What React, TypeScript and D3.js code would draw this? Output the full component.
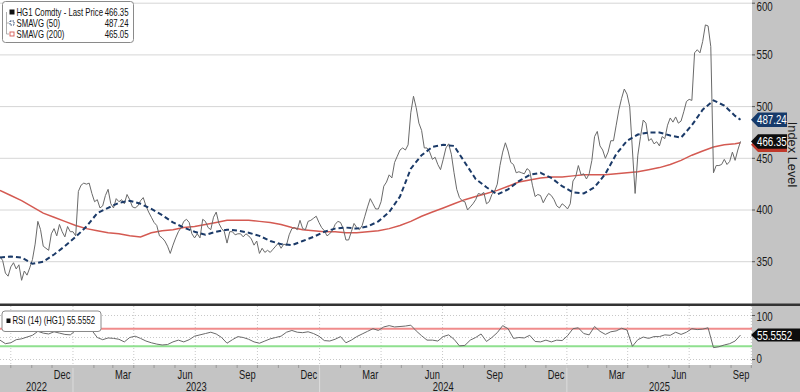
import React from 'react';
import * as d3 from 'd3';

// ---------- DATA ----------
const START = '2022-09-15';
const END_DOMAIN = '2025-10-02';
const LAST_DATE = '2025-09-15';
const PRICE_STEP_DAYS = 4;
const SMA_STEP_DAYS = 16;
const RSI_STEP_DAYS = 8;

const price = [
  355, 351, 339, 336, 345, 349, 343, 347, 332, 341, 337, 344, 352, 367, 389, 381, 365, 363, 361, 377,
  382, 375, 386, 379, 374, 384, 379, 379, 375, 418, 424, 426, 425, 426, 416, 408, 410, 402, 404, 414,
  420, 406, 402, 411, 408, 410, 406, 415, 410, 403, 402, 404, 409, 412, 404, 398, 393, 388, 385, 375,
  373, 370, 365, 358, 366, 373, 379, 383, 389, 391, 388, 377, 373, 377, 373, 391, 389, 383, 381, 393,
  398, 387, 382, 379, 368, 379, 379, 376, 377, 377, 374, 377, 375, 372, 366, 370, 358, 363, 359, 361,
  359, 362, 365, 368, 363, 367, 366, 376, 382, 383, 381, 390, 382, 381, 389, 390, 392, 394, 388, 383,
  380, 375, 377, 380, 386, 389, 388, 382, 371, 371, 379, 387, 383, 381, 385, 394, 403, 411, 406, 401,
  401, 408, 423, 427, 434, 431, 446, 452, 458, 460, 458, 463, 494, 510, 499, 484, 477, 460, 460, 456,
  449, 451, 444, 439, 449, 460, 464, 454, 436, 420, 412, 409, 408, 400, 403, 406, 410, 416, 415, 417,
  406, 408, 415, 418, 425, 443, 456, 465, 457, 446, 444, 436, 437, 436, 435, 440, 438, 424, 413, 415,
  414, 407, 412, 416, 414, 410, 404, 402, 406, 404, 401, 406, 428, 432, 443, 434, 435, 430, 435, 448,
  471, 476, 462, 458, 450, 456, 467, 467, 482, 497, 508, 517, 512, 500, 458, 416, 453, 471, 487, 484,
  467, 469, 464, 466, 462, 471, 469, 482, 489, 485, 490, 484, 486, 495, 505, 507, 506, 552, 555, 552,
  563, 579, 578, 558, 436, 443, 443, 444, 449, 444, 447, 456, 448, 458, 466.35,
];

const sma50 = [
  354, 355, 354, 348, 350, 357, 365, 374, 384, 397, 402, 407, 409, 406, 401, 395, 388, 383, 379, 376,
  379, 381, 380, 378, 375, 370, 367, 366, 370, 374, 379, 382, 383, 382, 384, 389, 398, 413, 440, 453,
  461, 463, 462, 446, 430, 422, 415, 420, 428, 434, 436, 431, 423, 417, 416, 422, 435, 454, 467, 473,
  475, 475, 472, 470, 482, 497, 506, 501, 491,
];
const lastSma50 = 487.24;

const sma200 = [
  419, 414, 409, 403, 397, 393, 389, 385, 382, 380, 378, 377, 375, 374, 378, 380, 381, 383, 384, 386,
  388, 390, 390, 390, 389, 388, 386, 383, 381, 380, 379, 379, 378, 378, 379, 380, 382, 385, 389, 394,
  398, 402, 406, 410, 413, 416, 419, 423, 427, 429, 431, 432, 432, 433, 434, 434, 434, 435, 436, 437,
  439, 441, 444, 448, 453, 457, 461, 463, 464,
];
const lastSma200 = 465.05;
const lastPrice = 466.35;

const rsi = [
  44, 36, 38, 45, 47, 51, 55, 64, 60, 58, 63, 60, 57, 56, 66, 76, 74, 66, 50, 45,
  49, 48, 46, 40, 50, 53, 48, 42, 38, 35, 33, 34, 40, 44, 40, 45, 53, 56, 59, 62,
  58, 50, 37, 45, 52, 50, 46, 40, 37, 42, 47, 50, 53, 62, 66, 62, 61, 63, 59, 53,
  43, 42, 46, 52, 38, 44, 52, 58, 64, 70, 66, 74, 77, 74, 75, 76, 78, 65, 54, 44,
  44, 42, 52, 56, 46, 31, 32, 44, 50, 58, 41, 50, 61, 77, 70, 48, 50, 49, 55, 41,
  40, 44, 40, 44, 43, 54, 70, 72, 59, 56, 75, 64, 57, 63, 65, 71, 67, 30, 45, 51,
  48, 52, 52, 56, 55, 62, 57, 62, 70, 68, 69, 72, 27, 29, 33, 36, 42,
];
const lastRsi = 55.5552;

const priceTicks = [350, 400, 450, 500, 550, 600];
const rsiTicks = [0, 100];
const rsiGrid = [0, 50, 100];
const rsiOverbought = 70;
const rsiOversold = 30;
const labelMonths = [2, 5, 8, 11]; // Mar, Jun, Sep, Dec
const legendItems = [
  { name: 'HG1 Comdty - Last Price', value: '466.35' },
  { name: 'SMAVG (50)', value: '487.24' },
  { name: 'SMAVG (200)', value: '465.05' },
];
const rsiLegend = 'RSI (14) (HG1) 55.5552';

// ---------- STYLE ----------
const FONT = "'Liberation Sans', Arial, sans-serif";
const C_PRICE = '#6a6a6a';
const C_SMA50 = '#1b3a68';
const C_SMA200 = '#d45a52';
const C_BAND = '#c4c4c4';
const SX = 0.78;

type Pt = { d: Date; v: number };

function NText(props: {
  x: number;
  y: number;
  size: number;
  fill?: string;
  anchor?: 'start' | 'middle' | 'end';
  sx?: number;
  children: React.ReactNode;
}) {
  const { x, y, size, fill = '#1a1a1a', anchor = 'start', sx = SX, children } = props;
  return (
    <text
      transform={`translate(${x},${y}) scale(${sx},1)`}
      textAnchor={anchor}
      dominantBaseline="central"
      fontSize={size}
      fill={fill}
    >
      {children}
    </text>
  );
}

export default function App() {
  const W = 800;
  const H = 392;
  const plotR = 752;
  const mainBottom = 303.5;
  const rsiTop = 306;
  const bandTop = 365;

  const parse = d3.timeParse('%Y-%m-%d');
  const t0 = parse(START) as Date;
  const tEnd = parse(END_DOMAIN) as Date;
  const tLast = parse(LAST_DATE) as Date;

  const x = d3.scaleTime().domain([t0, tEnd]).range([0, plotR]);
  const y = d3.scaleLinear().domain([350, 600]).range([261.7, 3.2]);
  const yr = d3.scaleLinear().domain([0, 100]).range([359.5, 315.5]);

  const seq = (arr: number[], step: number): Pt[] =>
    arr.map((v, i) => ({ d: d3.timeDay.offset(t0, i * step), v }));

  const pData = seq(price, PRICE_STEP_DAYS);
  const s50: Pt[] = [...seq(sma50, SMA_STEP_DAYS), { d: tLast, v: lastSma50 }];
  const s200: Pt[] = [...seq(sma200, SMA_STEP_DAYS), { d: tLast, v: lastSma200 }];
  const rData: Pt[] = [...seq(rsi, RSI_STEP_DAYS), { d: tLast, v: lastRsi }];

  const lineMain = d3.line<Pt>().x((p) => x(p.d)).y((p) => y(p.v));
  const lineRsi = d3.line<Pt>().x((p) => x(p.d)).y((p) => yr(p.v));

  const months = d3.timeMonth.range(d3.timeMonth.ceil(t0), tEnd);
  const quarterStarts = months.filter((m) => m.getMonth() % 3 === 0);
  const labeled = months
    .concat([d3.timeMonth.floor(t0)])
    .filter((m) => labelMonths.includes(m.getMonth()));
  const fmtMonth = d3.timeFormat('%b');

  const yearStarts = d3.timeYear.range(d3.timeYear.ceil(t0), tEnd);
  const years = [d3.timeYear.floor(t0), ...yearStarts].map((ys) => {
    const a = ys < t0 ? t0 : ys;
    const nx = d3.timeYear.offset(ys, 1);
    const b = nx > tEnd ? tEnd : nx;
    return { label: ys.getFullYear(), cx: (x(a) + x(b)) / 2 };
  });

  const tagPath = (cy: number, h: number, right: number) => {
    const x0 = plotR - 1;
    const xs = plotR + 6;
    return `M${x0},${cy} L${xs},${cy - h / 2} L${right},${cy - h / 2} L${right},${cy + h / 2} L${xs},${cy + h / 2} Z`;
  };

  return (
    <svg
      width={W}
      height={H}
      viewBox={`0 0 ${W} ${H}`}
      style={{ position: 'absolute', left: 0, top: 0, background: '#fff' }}
      fontFamily={FONT}
    >
      <defs>
        <clipPath id="clipMain">
          <rect x={0} y={0} width={plotR} height={mainBottom} />
        </clipPath>
        <clipPath id="clipRsi">
          <rect x={0} y={rsiTop} width={plotR} height={bandTop - rsiTop} />
        </clipPath>
      </defs>

      <rect x={0} y={0} width={W} height={H} fill="#fff" />

      {/* main gridlines */}
      {priceTicks.map((t) => (
        <line key={t} x1={0} x2={plotR} y1={y(t)} y2={y(t)} stroke="#d6d6d6" strokeWidth={1} />
      ))}

      {/* rsi gridlines */}
      {rsiGrid.map((t) => (
        <line key={t} x1={0} x2={plotR} y1={yr(t)} y2={yr(t)} stroke="#c8c8c8" strokeWidth={1} strokeDasharray="1,2" />
      ))}
      {quarterStarts.map((q) => (
        <line key={+q} x1={x(q)} x2={x(q)} y1={rsiTop} y2={bandTop} stroke="#c8c8c8" strokeWidth={1} strokeDasharray="1,2" />
      ))}

      {/* main series */}
      <g clipPath="url(#clipMain)">
        <path d={lineMain(s200) || ''} fill="none" stroke={C_SMA200} strokeWidth={1.5} />
        <path d={lineMain(pData) || ''} fill="none" stroke={C_PRICE} strokeWidth={1} strokeLinejoin="round" />
        <path d={lineMain(s50) || ''} fill="none" stroke={C_SMA50} strokeWidth={2} strokeDasharray="5,3" />
      </g>

      {/* rsi */}
      <line x1={0} x2={plotR} y1={yr(rsiOverbought)} y2={yr(rsiOverbought)} stroke="#f08c8c" strokeWidth={2} />
      <line x1={0} x2={plotR} y1={yr(rsiOversold)} y2={yr(rsiOversold)} stroke="#8fe08f" strokeWidth={2} />
      <g clipPath="url(#clipRsi)">
        <path d={lineRsi(rData) || ''} fill="none" stroke={C_PRICE} strokeWidth={1} strokeLinejoin="round" />
      </g>

      {/* panel separator */}
      <rect x={0} y={mainBottom} width={W} height={2.5} fill="#333" />

      {/* x band */}
      <rect x={0} y={bandTop} width={W} height={H - bandTop} fill={C_BAND} />
      {months.map((m) => (
        <line key={+m} x1={x(m)} x2={x(m)} y1={bandTop} y2={bandTop + 3} stroke="#999" strokeWidth={1} />
      ))}
      {yearStarts.map((ys) => (
        <line key={+ys} x1={x(ys)} x2={x(ys)} y1={bandTop} y2={H} stroke="#dcdcdc" strokeWidth={1} />
      ))}
      {labeled.map((m) => {
        const mid = x(d3.timeDay.offset(m, 15));
        if (mid < 5 || mid > plotR) return null;
        return (
          <NText key={+m} x={mid} y={374.5} size={12} anchor="middle">
            {fmtMonth(m)}
          </NText>
        );
      })}
      {years.map((yy) => (
        <NText key={yy.label} x={yy.cx} y={386.5} size={12} anchor="middle">
          {yy.label}
        </NText>
      ))}

      {/* right band */}
      <rect x={plotR} y={0} width={W - plotR} height={bandTop} fill={C_BAND} />
      <rect x={plotR} y={mainBottom} width={W - plotR} height={2.5} fill="#333" />
      {priceTicks.map((t) => (
        <g key={t}>
          <line x1={plotR} x2={plotR + 3} y1={y(t)} y2={y(t)} stroke="#555" />
          <NText x={plotR + 4.5} y={Math.max(y(t), 7)} size={12.5}>
            {t}
          </NText>
        </g>
      ))}
      {rsiTicks.map((t) => (
        <g key={t}>
          <line x1={plotR} x2={plotR + 3} y1={yr(t)} y2={yr(t)} stroke="#555" />
          <NText x={plotR + 4.5} y={yr(t) + (t === 0 ? -1 : 1)} size={12.5}>
            {t}
          </NText>
        </g>
      ))}
      <text
        transform={`translate(${792.5},${154.5}) rotate(90) scale(0.95,1)`}
        textAnchor="middle"
        dominantBaseline="central"
        fontSize={13.5}
        fill="#1a1a1a"
      >
        Index Level
      </text>

      {/* value tags */}
      <path d={tagPath(y(lastSma200) + 2, 14.5, 787)} fill="#c0392b" />
      <path d={tagPath(y(lastPrice), 14.5, 787)} fill="#0d0d0d" />
      <NText x={plotR + 5} y={y(lastPrice)} size={12.5} fill="#fff">
        {lastPrice.toFixed(2)}
      </NText>
      <path d={tagPath(y(lastSma50), 14.5, 787)} fill="#163a6a" />
      <NText x={plotR + 5} y={y(lastSma50)} size={12.5} fill="#fff">
        {lastSma50.toFixed(2)}
      </NText>
      <path d={tagPath(yr(lastRsi), 13, W)} fill="#0d0d0d" />
      <NText x={plotR + 5} y={yr(lastRsi)} size={12.5} fill="#fff">
        {lastRsi.toFixed(4)}
      </NText>

      {/* main legend */}
      <g>
        <rect x={2.5} y={1.5} width={131} height={41} rx={3} fill="#fff" stroke="#8a8a8a" strokeWidth={1} />
        <path d="M6.5,12 V34 M6.5,23 H9 M6.5,34 H9" stroke="#999" fill="none" strokeWidth={0.8} />
        <rect x={9.5} y={9.5} width={5} height={5} fill="#111" />
        <rect x={10} y={21} width={4} height={4} fill="none" stroke={C_SMA50} strokeWidth={0.9} strokeDasharray="1.5,1" />
        <rect x={10} y={32} width={4} height={4} fill="none" stroke={C_SMA200} strokeWidth={0.9} />
        {legendItems.map((it, i) => (
          <g key={it.name}>
            <NText x={16.5} y={12.5 + i * 11} size={10} fill="#111">
              {it.name}
            </NText>
            <NText x={128.5} y={12.5 + i * 11} size={10} fill="#111" anchor="end">
              {it.value}
            </NText>
          </g>
        ))}
      </g>

      {/* rsi legend */}
      <g>
        <rect x={2} y={311} width={99} height={20.5} rx={3} fill="#fff" stroke="#8a8a8a" strokeWidth={1} />
        <rect x={6.5} y={318.5} width={4} height={4.5} fill="#111" />
        <NText x={12.5} y={321} size={10} fill="#111">
          {rsiLegend}
        </NText>
      </g>
    </svg>
  );
}
